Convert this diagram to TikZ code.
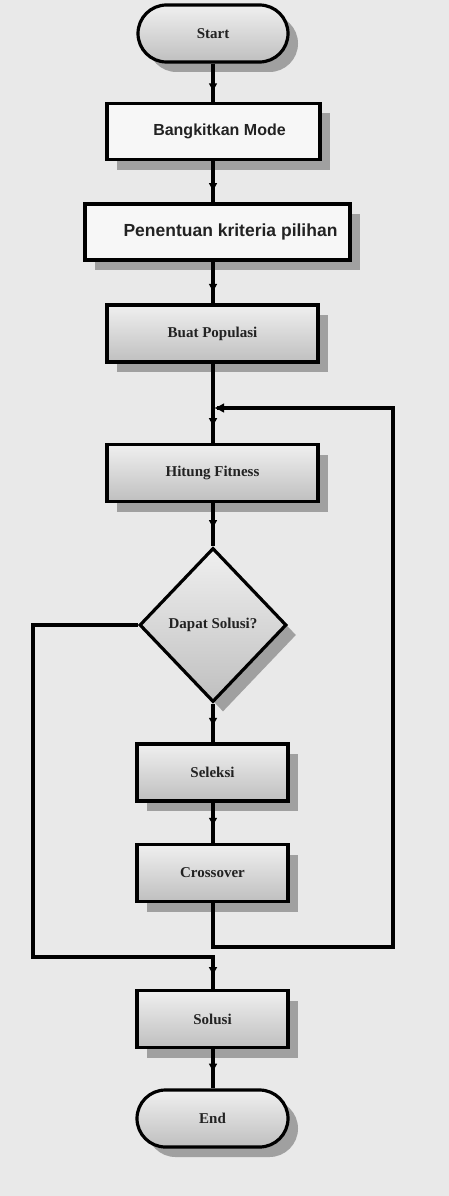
\documentclass[tikz,border=0pt]{standalone}
\usepackage{fontspec}
\setmainfont{Liberation Serif}
\newfontfamily\boxsans{Liberation Sans}
\usetikzlibrary{shapes.misc,shapes.geometric,shadows,decorations.markings,arrows.meta}
\definecolor{bg}{HTML}{E9E9E9}
\definecolor{shd}{HTML}{A0A0A0}
\definecolor{txt}{HTML}{222222}
\tikzset{
  base/.style={draw=black, line width=3.2pt, inner sep=0pt, text=txt, font=\bfseries\fontsize{15}{17}\selectfont,
    drop shadow={shadow xshift=10pt, shadow yshift=-10pt, fill=shd, opacity=1}},
  grayfill/.style={top color=gray!12, bottom color=gray!50},
  term/.style={base, grayfill, rounded rectangle, minimum width=150pt, minimum height=57pt},
  procbox/.style={base, grayfill, rectangle, minimum height=57pt},
  plainbox/.style={base, fill=gray!6, rectangle, minimum height=56pt, font=\boxsans\bfseries\fontsize{16}{18}\selectfont},
  decbox/.style={base, grayfill, diamond, minimum width=147pt, minimum height=154pt},
  conn/.style={line width=3.2pt, postaction={decorate},
    decoration={markings, mark=at position #1 with {\arrow{Latex[length=9pt,width=9pt]}}}},
  conn/.default=0.75,
  line/.style={line width=3.2pt}
}
\begin{document}
\begin{tikzpicture}[x=1pt,y=-1pt]
\fill[bg] (0,0) rectangle (449,1196);
\useasboundingbox (0,0) rectangle (449,1196);

\node[term] (start) at (213,33.5) {Start};
\node[plainbox, minimum width=213pt] (mode) at (213.5,131.5) {\hspace*{12pt}Bangkitkan Mode};
\node[plainbox, minimum width=265pt, font=\boxsans\bfseries\fontsize{17.5}{19}\selectfont] (krit) at (217.5,232) {\hspace*{26pt}Penentuan kriteria pilihan};
\node[procbox, minimum width=211pt] (pop) at (212.5,333.5) {Buat Populasi};
\coordinate (junc) at (213,408);
\node[procbox, minimum width=211pt] (fit) at (212.5,473) {Hitung Fitness};
\node[decbox] (dec) at (213,625) {Dapat Solusi?};
\node[procbox, minimum width=151pt] (sel) at (212.5,772.5) {Seleksi};
\node[procbox, minimum width=151pt] (cross) at (212.5,873) {Crossover};
\node[procbox, minimum width=151pt] (sol) at (212.5,1019) {Solusi};
\node[term, minimum width=151pt] (end) at (212.5,1118.5) {End};

\coordinate (cb) at (213,947);
\coordinate (cr) at (393,947);
\coordinate (tr) at (393,408);
\coordinate (ll) at (33,625);
\coordinate (lb) at (33,957);
\coordinate (lm) at (213,957);

\draw[conn] (start.south) -- (mode.north -| start.south);
\draw[conn] (mode.south -| start.south) -- (krit.north -| start.south);
\draw[conn] (krit.south -| start.south) -- (pop.north -| start.south);
\draw[line] (pop.south -| junc) -- (junc);
\draw[conn=0.55] (junc) -- (fit.north -| junc);
\draw[conn=0.6] (fit.south -| junc) -- (dec.north);
\draw[conn=0.6] (dec.south) -- (sel.north -| junc);
\draw[conn=0.6] (sel.south -| junc) -- (cross.north -| junc);
\draw[line, line join=miter] (cross.south -| junc) -- (cb) -- (cr) -- (tr) -- ([xshift=4pt]junc);
\draw[line width=3.2pt, -{Latex[length=10pt,width=10pt]}] ([xshift=20pt]junc) -- ([xshift=1pt]junc);
\draw[line, line join=miter] (dec.west) -- (ll) -- (lb) -- (lm) -- (sol.north -| lm);
\draw[conn=0.6] (lm) -- (sol.north -| lm);
\draw[conn=0.6] (sol.south -| junc) -- (end.north -| junc);
\end{tikzpicture}
\end{document}
